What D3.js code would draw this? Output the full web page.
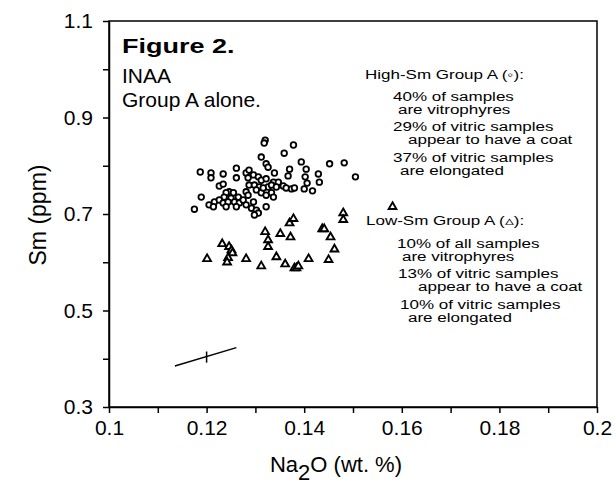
<!DOCTYPE html>
<html>
<head>
<meta charset="utf-8">
<script src="https://cdn.jsdelivr.net/npm/d3@7"></script>
<style>
  body { margin: 0; background: #fff; }
  svg { display: block; font-family: "Liberation Sans", Arial, Helvetica, sans-serif; }
  .axis path, .axis line { stroke: #000; stroke-width: 1.5; }
  .axis text { font-size: 21px; fill: #000; }
</style>
</head>
<body>
<div id="chart"></div>
<script>
// High-Sm Group A (open circles)
var highNa2O = [0.1187, 0.1209, 0.1209, 0.1234, 0.1261, 0.1261, 0.1226, 0.1234, 0.1281, 0.1287,
                0.1296, 0.1285, 0.1320, 0.1318, 0.1312, 0.1359, 0.1378, 0.1394, 0.1452, 0.1482,
                0.1505, 0.1322, 0.1326, 0.1339, 0.1306, 0.1312, 0.1322, 0.1337, 0.1347, 0.1287,
                0.1298, 0.1308, 0.1302, 0.1326, 0.1333, 0.1343, 0.1281, 0.1285, 0.1312, 0.1322,
                0.1246, 0.1240, 0.1255, 0.1236, 0.1265, 0.1250, 0.1205, 0.1216, 0.1226, 0.1214,
                0.1234, 0.1244, 0.1240, 0.1257, 0.1267, 0.1275, 0.1261, 0.1281, 0.1296, 0.1292,
                0.1302, 0.1306, 0.1298, 0.1322, 0.1189, 0.1175, 0.1333, 0.1357, 0.1363, 0.1374,
                0.1380, 0.1400, 0.1417, 0.1370, 0.1367, 0.1404, 0.1402, 0.1406, 0.1429, 0.1431,
                0.1337, 0.1316];
var highSm   = [0.787, 0.785, 0.775, 0.783, 0.795, 0.775, 0.758, 0.762, 0.785, 0.791,
                0.781, 0.775, 0.853, 0.847, 0.818, 0.826, 0.843, 0.808, 0.804, 0.806,
                0.777, 0.804, 0.797, 0.785, 0.777, 0.770, 0.773, 0.766, 0.766, 0.760,
                0.760, 0.756, 0.750, 0.756, 0.760, 0.756, 0.746, 0.739, 0.744, 0.739,
                0.746, 0.744, 0.744, 0.735, 0.735, 0.733, 0.719, 0.725, 0.729, 0.715,
                0.723, 0.725, 0.715, 0.725, 0.723, 0.729, 0.715, 0.719, 0.725, 0.712,
                0.708, 0.702, 0.698, 0.715, 0.735, 0.710, 0.744, 0.758, 0.754, 0.752,
                0.754, 0.752, 0.748, 0.793, 0.779, 0.793, 0.777, 0.764, 0.783, 0.766,
                0.735, 0.754];

// Low-Sm Group A (open triangles)
var lowNa2O = [0.1201, 0.1232, 0.1246, 0.1251, 0.1253, 0.1244, 0.1242, 0.1281, 0.1312, 0.1320,
               0.1326, 0.1326, 0.1343, 0.1351, 0.1372, 0.1361, 0.1370, 0.1378, 0.1380, 0.1384,
               0.1388, 0.1409, 0.1437, 0.1441, 0.1454, 0.1462, 0.1450, 0.1480, 0.1480, 0.1581];
var lowSm   = [0.607, 0.638, 0.632, 0.625, 0.619, 0.609, 0.600, 0.607, 0.592, 0.663,
               0.646, 0.632, 0.611, 0.659, 0.652, 0.596, 0.681, 0.690, 0.588, 0.588,
               0.592, 0.607, 0.669, 0.669, 0.652, 0.627, 0.605, 0.702, 0.688, 0.715];

// analytical error bar
var errLine = [[0.1135, 0.385], [0.1261, 0.423]];
var errTick = [[0.1200, 0.392], [0.1200, 0.415]];

var xTicks = [0.10, 0.11, 0.12, 0.13, 0.14, 0.15, 0.16, 0.17, 0.18, 0.19, 0.20];
var xTickLabels = ["0.1", "", "0.12", "", "0.14", "", "0.16", "", "0.18", "", "0.2"];
var yTicks = [0.3, 0.4, 0.5, 0.6, 0.7, 0.8, 0.9, 1.0, 1.1];
var yTickLabels = ["0.3", "", "0.5", "", "0.7", "", "0.9", "", "1.1"];

var titleLines = ["INAA", "Group A alone."];
var highNotes = ["40% of samples", "are vitrophyres", "29% of vitric samples",
                 "appear to have a coat", "37% of vitric samples", "are elongated"];
var lowNotes = ["10% of all samples", "are vitrophyres", "13% of vitric samples",
                "appear to have a coat", "10% of vitric samples", "are elongated"];

var width = 616, height = 488;

var x = d3.scaleLinear().domain([0.1, 0.2]).range([109, 597]);
var y = d3.scaleLinear().domain([0.3, 1.1]).range([407, 21]);

var svg = d3.select("#chart").append("svg")
    .attr("width", width)
    .attr("height", height);

svg.append("rect").attr("width", width).attr("height", height).attr("fill", "#fff");

// frame
svg.append("rect")
    .attr("x", x(0.1)).attr("y", y(1.1))
    .attr("width", x(0.2) - x(0.1)).attr("height", y(0.3) - y(1.1))
    .attr("fill", "none").attr("stroke", "#000").attr("stroke-width", 1.5);

var xAxis = d3.axisBottom(x)
    .tickValues(xTicks)
    .tickFormat(function(d, i) { return xTickLabels[i]; })
    .tickSize(6).tickSizeOuter(0).tickPadding(7);

var yAxis = d3.axisLeft(y)
    .tickValues(yTicks)
    .tickFormat(function(d, i) { return yTickLabels[i]; })
    .tickSize(6).tickSizeOuter(0).tickPadding(10);

svg.append("g")
    .attr("class", "axis")
    .attr("transform", "translate(0," + y(0.3) + ")")
    .call(xAxis)
    .call(function(g) { g.selectAll("text").attr("font-family", null); });

svg.append("g")
    .attr("class", "axis")
    .attr("transform", "translate(" + x(0.1) + ",0)")
    .call(yAxis)
    .call(function(g) { g.selectAll("text").attr("font-family", null); });

// axis titles
svg.append("text")
    .attr("transform", "translate(46,215) rotate(-90)")
    .attr("text-anchor", "middle")
    .style("font-size", "23px")
    .text("Sm (ppm)");

var xt = svg.append("text")
    .attr("x", 336).attr("y", 472)
    .attr("text-anchor", "middle")
    .style("font-size", "22px");
xt.append("tspan").text("Na");
xt.append("tspan").attr("dy", 8).text("2");
xt.append("tspan").attr("dy", -8).text("O (wt. %)");

// error bar
var line = d3.line().x(function(d) { return x(d[0]); }).y(function(d) { return y(d[1]); });
svg.append("path").attr("d", line(errLine)).attr("fill", "none").attr("stroke", "#000").attr("stroke-width", 1.5);
svg.append("path").attr("d", line(errTick)).attr("fill", "none").attr("stroke", "#000").attr("stroke-width", 1.5);

// points
var high = highNa2O.map(function(v, i) { return [v, highSm[i]]; });
var low = lowNa2O.map(function(v, i) { return [v, lowSm[i]]; });

svg.append("g").selectAll("circle")
    .data(high)
  .enter().append("circle")
    .attr("cx", function(d) { return x(d[0]); })
    .attr("cy", function(d) { return y(d[1]); })
    .attr("r", 2.8)
    .attr("fill", "#fff")
    .attr("stroke", "#000")
    .attr("stroke-width", 1.8);

var tri = d3.symbol().type(d3.symbolTriangle).size(26);
svg.append("g").selectAll("path")
    .data(low)
  .enter().append("path")
    .attr("d", tri)
    .attr("transform", function(d) { return "translate(" + x(d[0]) + "," + y(d[1]) + ")"; })
    .attr("fill", "#fff")
    .attr("stroke", "#000")
    .attr("stroke-width", 1.9);

// title block
svg.append("text")
    .attr("transform", "translate(122,53) scale(1.35,1)")
    .style("font-size", "20px").style("font-weight", "bold")
    .text("Figure 2.");

svg.selectAll(".tline")
    .data(titleLines)
  .enter().append("text")
    .attr("class", "tline")
    .attr("x", 122)
    .attr("y", function(d, i) { return 83 + i * 24; })
    .style("font-size", "21px")
    .text(function(d) { return d; });

// notes
function note(txt, px, py) {
  svg.append("text")
      .attr("transform", "translate(" + px + "," + py + ") scale(1.36,1)")
      .style("font-size", "12.5px")
      .text(txt);
}

var highPos = [[393, 101], [398, 114], [393, 131], [408, 144], [393, 162], [400, 175]];
var lowPos = [[397, 248], [402, 261], [398, 278], [418, 291], [400, 309], [408, 322]];

note("High-Sm Group A (\u25E6):", 365, 79);
highNotes.forEach(function(t, i) { note(t, highPos[i][0], highPos[i][1]); });
note("Low-Sm Group A (\u25B5):", 366, 225);
lowNotes.forEach(function(t, i) { note(t, lowPos[i][0], lowPos[i][1]); });
</script>
</body>
</html>
